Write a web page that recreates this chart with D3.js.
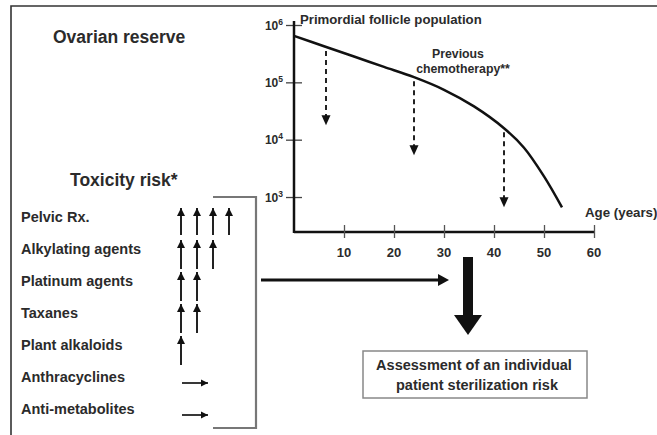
<!DOCTYPE html>
<html>
<head>
<meta charset="utf-8">
<script src="https://cdn.jsdelivr.net/npm/d3@7"></script>
<style>
  body { margin: 0; background: #fff; }
  text { font-family: "Liberation Sans", Arial, sans-serif; font-weight: bold; fill: #2b2b2b; }
</style>
</head>
<body>
<div id="chart"></div>
<script>
// follicle population curve (age in years, log10 count)
const curveAges = [0, 6, 12, 18, 24, 30, 36, 42, 46, 50, 53.6];
const curveLogs = [5.81, 5.63, 5.45, 5.27, 5.09, 4.87, 4.58, 4.20, 3.86, 3.36, 2.82];

// dashed chemotherapy arrows: age and log10 value at tip
const chemoAges = [6.4, 24, 42];
const chemoTipLogs = [4.25, 3.73, 2.82];

const xTicks = [10, 20, 30, 40, 50, 60];
const yTicks = [3, 4, 5, 6];

// toxicity risk table
const agents = ["Pelvic Rx.", "Alkylating agents", "Platinum agents", "Taxanes",
                "Plant alkaloids", "Anthracyclines", "Anti-metabolites"];
const upArrows = [4, 3, 2, 2, 1, 0, 0];

(() => {
  const width = 657, height = 435;
  const svg = d3.select("#chart").append("svg")
    .attr("width", width).attr("height", height);

  const defs = svg.append("defs");
  defs.append("marker").attr("id", "head")
    .attr("viewBox", "0 0 10 10").attr("refX", 10).attr("refY", 5)
    .attr("markerWidth", 4).attr("markerHeight", 4)
    .attr("markerUnits", "strokeWidth")
    .attr("orient", "auto")
    .append("path").attr("d", "M0,0L10,5L0,10z").attr("fill", "#111");

  // frame
  svg.append("path").attr("d", "M11,435V6H657")
    .attr("fill", "none").attr("stroke", "#333").attr("stroke-width", 1.6);

  svg.append("text").attr("x", 53).attr("y", 43)
    .style("font-size", "17.5px").text("Ovarian reserve");

  // scales
  const x = d3.scaleLinear().domain([0, 60]).range([294, 594]);
  const y = d3.scaleLinear().domain([2.39, 6]).range([232, 25]);

  const chart = svg.append("g");

  // y axis
  const yAxis = chart.append("g").attr("transform", `translate(${x(0)},0)`)
    .call(d3.axisLeft(y).tickValues(yTicks).tickFormat(""));
  yAxis.select(".domain").remove();
  yAxis.selectAll(".tick line").attr("x1", -8).attr("x2", 8)
    .attr("stroke", "#444").attr("stroke-width", 1.3);
  chart.append("line").attr("x1", x(0)).attr("x2", x(0))
    .attr("y1", y(2.39) + 1).attr("y2", 21)
    .attr("stroke", "#111").attr("stroke-width", 2.5);

  yTicks.forEach(t => {
    const lbl = chart.append("text").attr("x", x(0) - 11).attr("y", y(t) + 4.5)
      .attr("text-anchor", "end").style("font-size", "12px");
    lbl.append("tspan").text("10");
    lbl.append("tspan").attr("dy", -5).style("font-size", "8.5px").text(t);
  });

  // x axis
  const xAxis = chart.append("g").attr("transform", `translate(0,${y(2.39)})`)
    .call(d3.axisBottom(x).tickValues(xTicks).tickFormat("").tickSize(0));
  xAxis.select(".domain").attr("stroke", "#111").attr("stroke-width", 2.5)
    .attr("d", `M${x(0)},0H${x(60)}`);
  xAxis.selectAll(".tick line").attr("y1", -7).attr("y2", 6)
    .attr("stroke", "#555").attr("stroke-width", 1.3);
  xTicks.forEach(t => {
    chart.append("text").attr("x", x(t)).attr("y", 257)
      .attr("text-anchor", "middle").style("font-size", "13px").text(t);
  });

  // curve
  const pts = curveAges.map((a, i) => [a, curveLogs[i]]);
  chart.append("path").datum(pts)
    .attr("d", d3.line().x(d => x(d[0])).y(d => y(d[1])).curve(d3.curveCatmullRom.alpha(0.5)))
    .attr("fill", "none").attr("stroke", "#111").attr("stroke-width", 2.5);

  // dashed arrows
  const interp = a => {
    let i = d3.bisectRight(curveAges, a) - 1;
    i = Math.max(0, Math.min(i, curveAges.length - 2));
    const t = (a - curveAges[i]) / (curveAges[i + 1] - curveAges[i]);
    return curveLogs[i] + t * (curveLogs[i + 1] - curveLogs[i]);
  };
  chemoAges.forEach((a, i) => {
    const y0 = y(interp(a)) + 4, y1 = y(chemoTipLogs[i]);
    chart.append("line").attr("x1", x(a)).attr("x2", x(a))
      .attr("y1", y0).attr("y2", y1 - 8)
      .attr("stroke", "#222").attr("stroke-width", 2)
      .attr("stroke-dasharray", "5,4");
    chart.append("path")
      .attr("d", `M${x(a) - 4.5},${y1 - 10}L${x(a) + 4.5},${y1 - 10}L${x(a)},${y1}z`)
      .attr("fill", "#111");
  });

  chart.append("text").attr("x", 300).attr("y", 24)
    .style("font-size", "13.2px").text("Primordial follicle population");
  chart.append("text").attr("x", 458).attr("y", 58)
    .attr("text-anchor", "middle").style("font-size", "12.3px").text("Previous");
  chart.append("text").attr("x", 463).attr("y", 73)
    .attr("text-anchor", "middle").style("font-size", "12.3px").text("chemotherapy**");
  chart.append("text").attr("x", 585).attr("y", 217)
    .style("font-size", "13.3px").text("Age (years)");

  // toxicity table
  svg.append("text").attr("x", 70).attr("y", 186)
    .style("font-size", "17.5px").text("Toxicity risk*");

  const rowY = d3.scalePoint().domain(agents).range([217, 409]);
  const colX = d3.scaleLinear().domain([0, 3]).range([181, 229]);

  agents.forEach((name, i) => {
    const cy = rowY(name);
    svg.append("text").attr("x", 21).attr("y", cy + 5)
      .style("font-size", "14.5px").text(name);
    if (upArrows[i] > 0) {
      d3.range(upArrows[i]).forEach(j => {
        svg.append("line").attr("x1", colX(j)).attr("x2", colX(j))
          .attr("y1", cy + (i === 0 ? 18 : 20)).attr("y2", cy - 9)
          .attr("stroke", "#222").attr("stroke-width", 2)
          .attr("marker-end", "url(#head)");
      });
    } else {
      svg.append("line").attr("x1", 182).attr("x2", 208)
        .attr("y1", cy + 6).attr("y2", cy + 6)
        .attr("stroke", "#222").attr("stroke-width", 1.8)
        .attr("marker-end", "url(#head)");
    }
  });

  // bracket
  svg.append("path").attr("d", "M213,197H256V428H213")
    .attr("fill", "none").attr("stroke", "#777").attr("stroke-width", 2.2);

  // arrow to assessment
  svg.append("line").attr("x1", 261).attr("x2", 440).attr("y1", 280).attr("y2", 280)
    .attr("stroke", "#111").attr("stroke-width", 3);
  svg.append("path").attr("d", "M438,274L449,280L438,286z").attr("fill", "#111");

  svg.append("rect").attr("x", 463).attr("y", 257).attr("width", 10).attr("height", 60)
    .attr("fill", "#111");
  svg.append("path").attr("d", "M454,315L482,315L468,335z").attr("fill", "#111");

  // assessment box
  svg.append("rect").attr("x", 363).attr("y", 351).attr("width", 224).attr("height", 47)
    .attr("fill", "#fff").attr("stroke", "#888").attr("stroke-width", 1.5);
  svg.append("text").attr("x", 474).attr("y", 370).attr("text-anchor", "middle")
    .style("font-size", "14.5px").text("Assessment of an individual");
  svg.append("text").attr("x", 477).attr("y", 390).attr("text-anchor", "middle")
    .style("font-size", "14.5px").text("patient sterilization risk");
})();
</script>
</body>
</html>
